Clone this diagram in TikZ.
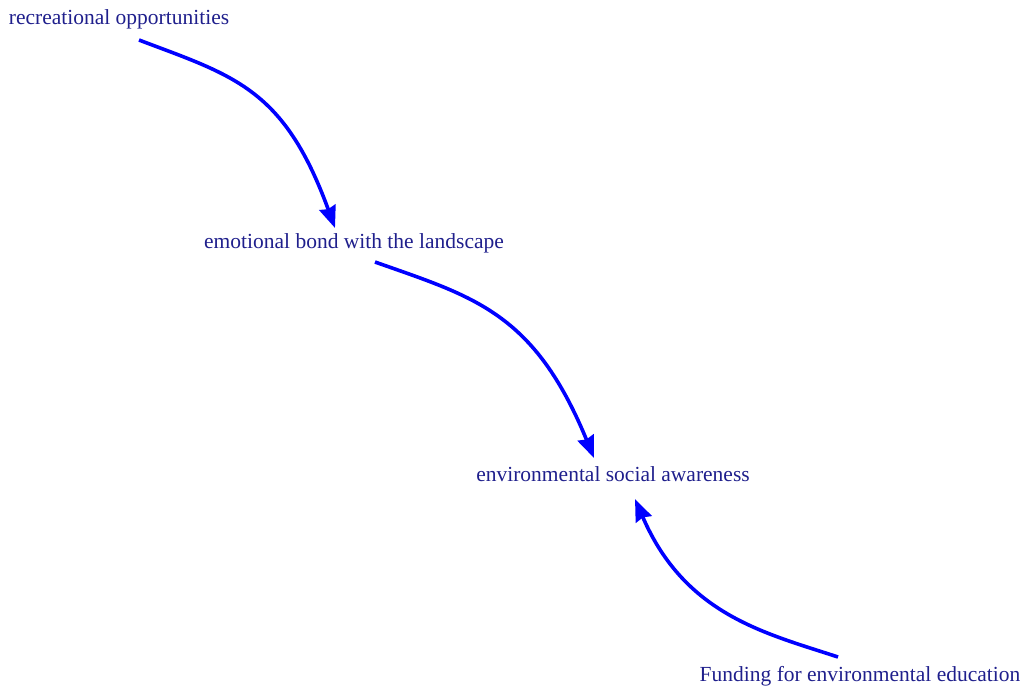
\documentclass[tikz,border=0pt]{standalone}
\usepackage{fontspec}
\setmainfont{Liberation Serif}
\usetikzlibrary{arrows.meta,calc}
\definecolor{labelnavy}{rgb}{0.12,0.12,0.55}
\definecolor{linkblue}{rgb}{0,0,1}
\begin{document}
\begin{tikzpicture}[x=1pt,y=-1pt,
  concept/.style={text=labelnavy,inner sep=0pt,font=\fontsize{21.5}{24}\selectfont},
  link/.style={draw=linkblue,line width=3.6pt,
    -{Triangle[length=22pt,width=17pt,inset=2pt]}}]
  \useasboundingbox (0,0) rectangle (1027,689);
  % concepts
  \node[concept] (rec) at (119,19) {recreational opportunities};
  \node[concept] (bond) at (354,243) {emotional bond with the landscape};
  \node[concept] (aware) at (613,474) {environmental social awareness};
  \node[concept] (fund) at (860,676) {Funding for environmental education};
  % causal links
  \draw[link] ($(rec)+(20,21)$) .. controls ($(rec)+(115,57)$) and ($(rec)+(165,69)$) .. ($(bond)+(-19,-15)$);
  \draw[link] ($(bond)+(21,19)$) .. controls ($(bond)+(120,54)$) and ($(bond)+(180,69)$) .. ($(aware)+(-19,-16)$);
  \draw[link] ($(fund)+(-22,-19)$) .. controls ($(fund)+(-95,-43)$) and ($(fund)+(-175,-61)$) .. ($(aware)+(22,25)$);
\end{tikzpicture}
\end{document}
